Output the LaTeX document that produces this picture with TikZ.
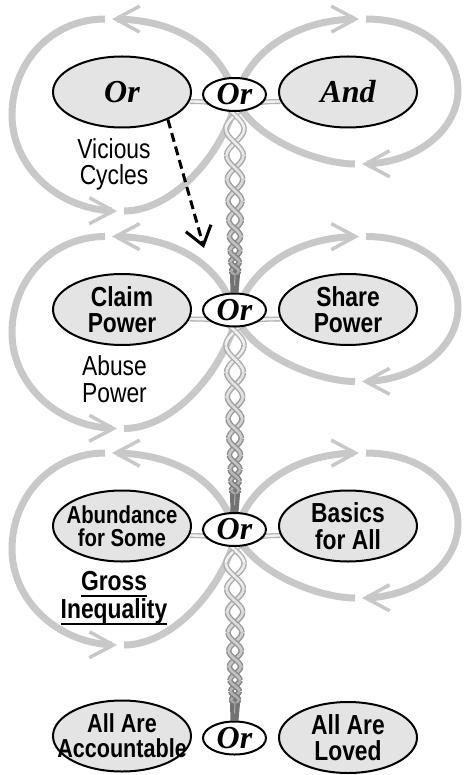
\documentclass[tikz,border=0pt]{standalone}
\usepackage{fontspec}
\setmainfont{Liberation Serif}
\newfontfamily\nar[FakeStretch=0.83]{Liberation Sans}
\newcommand\myul[1]{\setbox0\hbox{#1}\rlap{\rule[-6.5pt]{\wd0}{2pt}}\box0}
\usetikzlibrary{arrows.meta,bending,shapes.geometric,calc}
\pgfdeclarelayer{bg}
\pgfsetlayers{bg,main}
\definecolor{loopgray}{RGB}{200,200,200}
\definecolor{ellfill}{RGB}{228,228,228}
\newcommand\strandseg[5]{%
  \draw[line width=5.5pt, black!#4] plot[domain=#2:#3, samples=9, variable=\n]
    ({235+(#1)*(9.5-0.7*\n)*sin(180*\n)}, {\yt+\sc*(29*\n-1.25*\n*\n)});
  \draw[line width=2.6pt, black!#5] plot[domain=#2:#3, samples=9, variable=\n]
    ({235+(#1)*(9.5-0.7*\n)*sin(180*\n)}, {\yt+\sc*(29*\n-1.25*\n*\n)});
}
\newcommand\figeight[1]{%
  \begin{scope}[shift={(0,#1)}]
    \draw[loopl] (355,72) .. controls (320,72) and (255,48) .. (236,8) .. controls (225,-37) and (185,-73) .. (112,-73);
    \draw[loopl] (105,-73) .. controls (52,-73) and (12,-30) .. (12,23) .. controls (12,76) and (60,119) .. (117,119);
    \draw[loopl] (124,119) .. controls (175,119) and (225,58) .. (236,8) .. controls (243,-30) and (285,-73) .. (359,-73);
    \draw[loopl] (366,-73) .. controls (420,-73) and (458,-42) .. (458,-2) .. controls (458,38) and (416,72) .. (362,72);
  \end{scope}}
\begin{document}
\begin{tikzpicture}[x=1pt,y=-1pt,
  loopl/.style={draw=loopgray, line width=7pt, -{Straight Barb[length=24pt,width=26pt,line width=3.5pt]}},
  big/.style={ellipse, draw=black, line width=2pt, fill=ellfill, minimum width=138pt, minimum height=71pt, inner xsep=-40pt, inner ysep=-20pt, align=center},
  small/.style={ellipse, draw=black, line width=2pt, fill=white, minimum width=63pt, minimum height=33pt, inner xsep=-20pt, inner ysep=-10pt},
  ser/.style={font=\fontsize{32}{32}\selectfont\bfseries\itshape},
  sb/.style={font=\nar\bfseries\fontsize{27.5}{26.5}\selectfont},
  sbs/.style={font=\nar\bfseries\fontsize{24.5}{23}\selectfont},
  sb4/.style={font=\nar\bfseries\fontsize{26}{25}\selectfont},
  sr/.style={font=\nar\fontsize{27.5}{26.5}\selectfont, align=center, inner sep=0pt},
  srb/.style={font=\nar\bfseries\fontsize{27.5}{24}\selectfont, align=center, inner sep=0pt},
  dasharrow/.style={draw=black, line width=3pt, dash pattern=on 9pt off 5pt, -{Straight Barb[length=18pt,width=26pt,line width=3pt]}}
]
\useasboundingbox (0,0) rectangle (469,775);

% nodes
\node[big, ser] (L1) at (122,92) {Or};
\node[small, ser] (O1) at (234.5,94.5) {Or};
\node[big, ser] (R1) at (348,92) {And};
\node[big, sb] (L2) at (122,309.5) {Claim\\Power};
\node[small, ser] (O2) at (234.5,310) {Or};
\node[big, sb] (R2) at (348,309.5) {Share\\Power};
\node[big, sbs] (L3) at (122,526) {Abundance\\for Some};
\node[small, ser] (O3) at (234.5,529.5) {Or};
\node[big, sb] (R3) at (348,526) {Basics\\for All};
\node[big, sb4] (L4) at (122,736) {All Are\\Accountable};
\node[small, ser] (O4) at (234.5,738) {Or};
\node[big, sb] (R4) at (348,737.5) {All Are\\Loved};

\node[sr] (vc) at (114,164.5) {Vicious\\Cycles};
\node[sr] (ap) at (114.5,379) {Abuse\\Power};
\node[srb] (gi) at (114,598) {\myul{Gross}\\\myul{Inequality}};

\begin{pgfonlayer}{bg}
\fill[white] (0,0) rectangle (469,775);
\figeight{92}
\figeight{309.5}
\figeight{526}
\foreach \yt/\sc/\lnd/\rnd/\onx in {115/1.0/L1/R1/O2, 331/1.02/L2/R2/O3, 550/0.96/L3/R3/O4}{
  % entry strands
  \draw[line width=5pt, black!30] (\rnd.188) .. controls +(-28,0) and +(10,-10) .. (235,\yt);
  \draw[line width=2.4pt, black!5] (\rnd.188) .. controls +(-28,0) and +(10,-10) .. (235,\yt);
  \strandseg{-1}{0}{0.5}{30}{5}
  \draw[line width=5pt, black!30] (\lnd.-8) .. controls +(28,0) and +(-10,-10) .. (235,\yt);
  \draw[line width=2.4pt, black!5] (\lnd.-8) .. controls +(28,0) and +(-10,-10) .. (235,\yt);
  \strandseg{1}{0}{0.5}{30}{5}
  \foreach \k in {1,...,9}{
    \pgfmathsetmacro\a{\k-0.5}
    \pgfmathsetmacro\b{min(9,\k+0.5)}
    \pgfmathtruncatemacro\po{30+2.8*\k}
    \pgfmathtruncatemacro\pin{5+3.3*\k}
    \ifodd\k
      \strandseg{1}{\a}{\b}{\po}{\pin}
      \strandseg{-1}{\a}{\b}{\po}{\pin}
    \else
      \strandseg{-1}{\a}{\b}{\po}{\pin}
      \strandseg{1}{\a}{\b}{\po}{\pin}
    \fi
  }
  \pgfmathsetmacro\yn{\yt+\sc*159.75}
  \fill[black!55] (230,\yn) -- (240,\yn) -- ($(\onx.north)+(4,0)$) -- ($(\onx.north)+(-4,0)$) -- cycle;
  \draw[black!30, line width=1pt] (235,\yn) -- ($(\onx.north)+(0,-7)$);
}
\end{pgfonlayer}

\coordinate (dz) at (204,248);
\draw[dasharrow] (L1.-31) -- (dz);
\end{tikzpicture}
\end{document}
